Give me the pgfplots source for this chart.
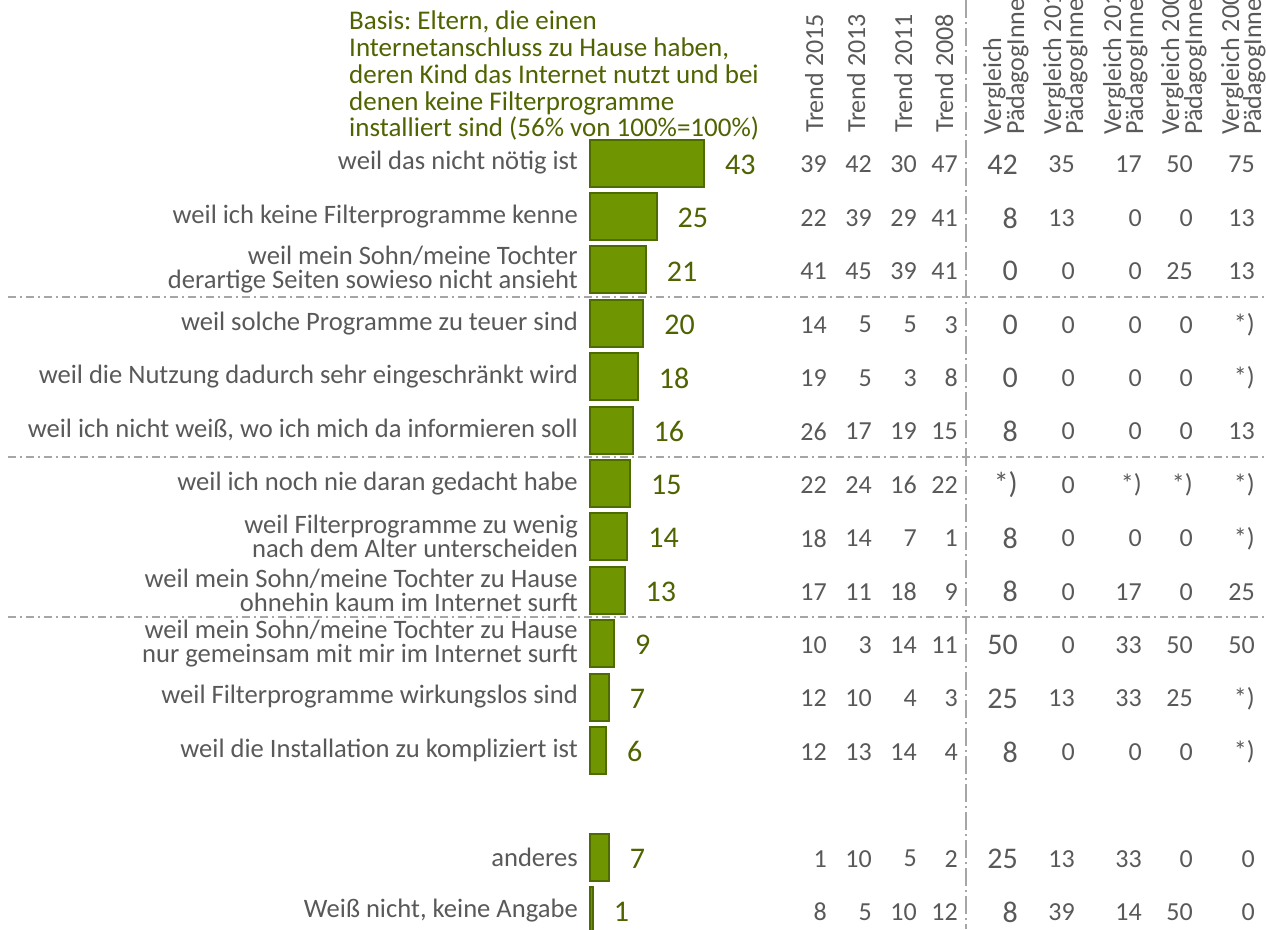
\documentclass[border=0pt]{standalone}
\usepackage{fontspec}
\setmainfont{Carlito}
\usepackage{pgfplots}
\usepackage{pgfplotstable}
\pgfplotsset{compat=1.18}
\definecolor{BarFill}{HTML}{6F9600}
\definecolor{BarEdge}{HTML}{4E6B00}
\definecolor{Olive}{HTML}{4F6300}
\definecolor{TxtGray}{HTML}{595959}
\definecolor{LineGray}{HTML}{A6A6A6}
\newcommand\fs[2]{\fontsize{#1}{#2}\selectfont}
\frenchspacing

% row = position from top (row 12 is left empty)
\pgfplotstableread{
row val t15 t13 t11 t08 p1 p2 p3 p4 p5
0  43 39 42 30 47 42 35 17 50 75
1  25 22 39 29 41 8  13 0  0  13
2  21 41 45 39 41 0  0  0  25 13
3  20 14 5  5  3  0  0  0  0  *)
4  18 19 5  3  8  0  0  0  0  *)
5  16 26 17 19 15 8  0  0  0  13
6  15 22 24 16 22 *) 0  *) *) *)
7  14 18 14 7  1  8  0  0  0  *)
8  13 17 11 18 9  8  0  17 0  25
9  9  10 3  14 11 50 0  33 50 50
10 7  12 10 4  3  25 13 33 25 *)
11 6  12 13 14 4  8  0  0  0  *)
13 7  1  10 5  2  25 13 33 0  0
14 1  8  5  10 12 8  39 14 50 0
}\reasons

\pgfplotsset{
  base/.style={width=1266pt,height=929pt,scale only axis,at={(0,0)},anchor=south west,
    ymin=0,ymax=929,y dir=reverse,
    axis line style={draw=none},tick style={draw=none},
    xtick=\empty,ytick=\empty},
  numcol/.style={draw=none,nodes near coords={\pgfplotspointmeta},point meta=explicit symbolic,
    nodes near coords style={anchor=east,inner sep=0pt,yshift=-1.5pt,text=TxtGray,font=\fs{#1}{#1}}},
  numcol/.default=26,
  sep/.style={LineGray,line width=1.5pt,dash pattern=on 8pt off 4pt on 2pt off 4pt}
}
\tikzset{head/.style={rotate=90,anchor=base west,inner sep=0pt,text=TxtGray,font=\fs{26}{26}}}

\begin{document}
\begin{tikzpicture}
% bars
\begin{axis}[base,xmin=-222.75,xmax=254.98]
\addplot[xbar,bar width=47,fill=BarFill,draw=BarEdge,line width=2pt,
  nodes near coords={\pgfplotspointmeta},point meta=explicit symbolic,
  nodes near coords style={anchor=west,inner sep=0pt,xshift=20pt,yshift=-1.5pt,text=Olive,font=\fs{30}{30}}]
  table[x=val,y expr=163+53.4*\thisrow{row},meta=val]{\reasons};
\end{axis}

% labels, table columns, separators (pixel coordinates)
\begin{axis}[base,xmin=0,xmax=1266,clip=false,
  ytick={163,216.4,269.8,323.2,376.6,430,483.4,536.8,590.2,643.6,697,750.4,857.2,910.6},
  yticklabels={
    weil das nicht nötig ist,
    weil ich keine Filterprogramme kenne,
    {weil mein Sohn/meine Tochter\\derartige Seiten sowieso nicht ansieht},
    weil solche Programme zu teuer sind,
    weil die Nutzung dadurch sehr eingeschränkt wird,
    {weil ich nicht weiß, wo ich mich da informieren soll},
    weil ich noch nie daran gedacht habe,
    {weil Filterprogramme zu wenig\\nach dem Alter unterscheiden},
    {weil mein Sohn/meine Tochter zu Hause\\ohnehin kaum im Internet surft},
    {weil mein Sohn/meine Tochter zu Hause\\nur gemeinsam mit mir im Internet surft},
    weil Filterprogramme wirkungslos sind,
    weil die Installation zu kompliziert ist,
    anderes,
    {Weiß nicht, keine Angabe}},
  yticklabel style={anchor=east,align=right,inner sep=0pt,xshift=578pt,
    text=TxtGray,font=\fs{26.6}{24}}]
\addplot[sep] coordinates {(8,297)(1266,297)};
\addplot[sep] coordinates {(8,457)(1266,457)};
\addplot[sep] coordinates {(8,617)(1266,617)};
\addplot[LineGray,line width=1.5pt,dash pattern=on 18pt off 4pt on 2pt off 4pt]
  coordinates {(966,0)(966,929)};

\addplot[numcol] table[x expr=827,y expr=163+53.4*\thisrow{row},meta=t15]{\reasons};
\addplot[numcol] table[x expr=872,y expr=163+53.4*\thisrow{row},meta=t13]{\reasons};
\addplot[numcol] table[x expr=917,y expr=163+53.4*\thisrow{row},meta=t11]{\reasons};
\addplot[numcol] table[x expr=958,y expr=163+53.4*\thisrow{row},meta=t08]{\reasons};
\addplot[numcol=30] table[x expr=1018,y expr=163+53.4*\thisrow{row},meta=p1]{\reasons};
\addplot[numcol] table[x expr=1075,y expr=163+53.4*\thisrow{row},meta=p2]{\reasons};
\addplot[numcol] table[x expr=1142,y expr=163+53.4*\thisrow{row},meta=p3]{\reasons};
\addplot[numcol] table[x expr=1193,y expr=163+53.4*\thisrow{row},meta=p4]{\reasons};
\addplot[numcol] table[x expr=1255,y expr=163+53.4*\thisrow{row},meta=p5]{\reasons};

\node[head] at (823,133) {Trend 2015};
\node[head] at (865,133) {Trend 2013};
\node[head] at (912,133) {Trend 2011};
\node[head] at (953,133) {Trend 2008};
\node[head] at (1001,135) {Vergleich};
\node[head] at (1024,135) {PädagogInnen 2015};
\node[head] at (1061,135) {Vergleich 2013};
\node[head] at (1083,135) {PädagogInnen};
\node[head] at (1121,135) {Vergleich 2011};
\node[head] at (1143,135) {PädagogInnen};
\node[head] at (1179,135) {Vergleich 2008};
\node[head] at (1202,135) {PädagogInnen};
\node[head] at (1239,135) {Vergleich 2006};
\node[head] at (1261,135) {PädagogInnen};

\node[anchor=north west,align=left,inner sep=0pt,text=Olive,font=\fs{27}{26.75}] at (349,11)
  {Basis: Eltern, die einen\\Internetanschluss zu Hause haben,\\deren Kind das Internet nutzt und bei\\denen keine Filterprogramme\\installiert sind (56\% von 100\%=100\%)};
\end{axis}
\pgfresetboundingbox
\useasboundingbox (0,0) rectangle (1266pt,929pt);
\end{tikzpicture}
\end{document}
